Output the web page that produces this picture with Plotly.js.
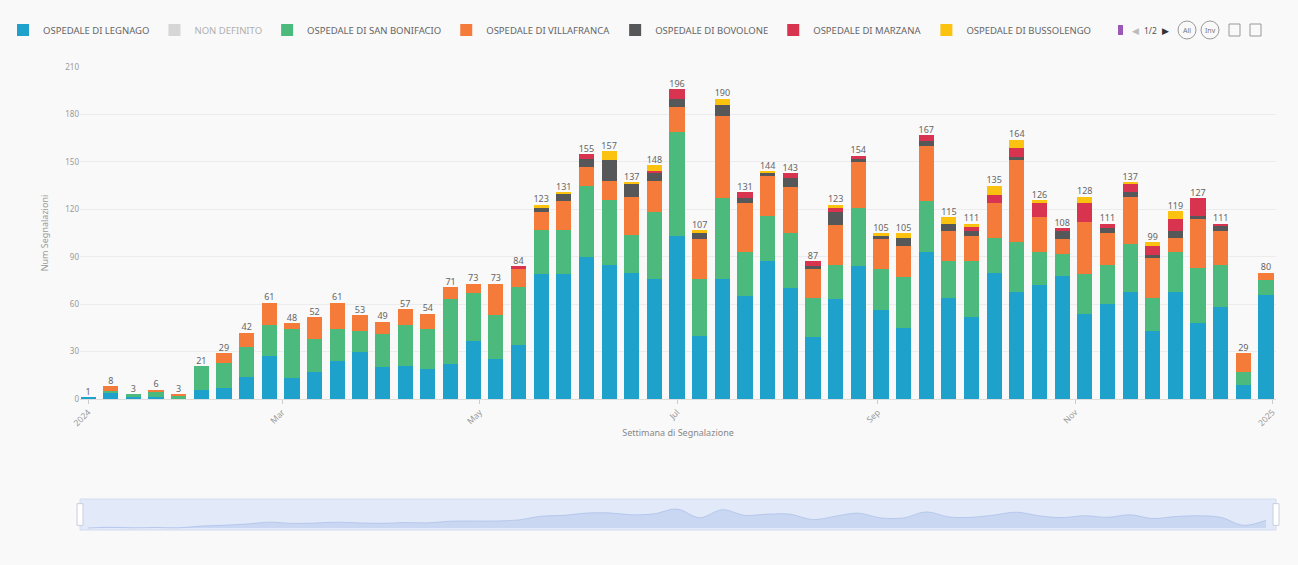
<!DOCTYPE html>
<html>
<head>
<meta charset="utf-8">
<script src="https://cdn.plot.ly/plotly-3.0.1.min.js"></script>
<style>
  html, body { margin: 0; padding: 0; background: #f9f9f9; }
  #chart { width: 1298px; height: 565px; }
</style>
</head>
<body>
<div id="chart"></div>
<script>
// Weekly report counts per hospital (week starting Monday)
const weeks = [
  '2024-01-01','2024-01-08','2024-01-15','2024-01-22','2024-01-29',
  '2024-02-05','2024-02-12','2024-02-19','2024-02-26',
  '2024-03-04','2024-03-11','2024-03-18','2024-03-25',
  '2024-04-01','2024-04-08','2024-04-15','2024-04-22','2024-04-29',
  '2024-05-06','2024-05-13','2024-05-20','2024-05-27',
  '2024-06-03','2024-06-10','2024-06-17','2024-06-24',
  '2024-07-01','2024-07-08','2024-07-15','2024-07-22','2024-07-29',
  '2024-08-05','2024-08-12','2024-08-19','2024-08-26',
  '2024-09-02','2024-09-09','2024-09-16','2024-09-23','2024-09-30',
  '2024-10-07','2024-10-14','2024-10-21','2024-10-28',
  '2024-11-04','2024-11-11','2024-11-18','2024-11-25',
  '2024-12-02','2024-12-09','2024-12-16','2024-12-23','2024-12-30'
];

const legnago = [1,4,1,1,0,6,7,14,27,13,17,24,30,20,21,19,22,37,25,34,
  79,79,90,85,80,76,103,40,76,65,87,70,39,63,84,56,45,93,64,52,
  80,68,72,78,54,60,68,43,68,48,58,9,66];
const sanBonifacio = [0,1,2,4,2,15,16,19,20,31,21,20,13,21,26,25,41,30,28,37,
  28,28,45,41,24,42,66,36,51,28,29,35,25,22,37,26,32,32,23,35,
  22,31,21,14,25,25,30,21,25,35,27,8,9];
const villafranca = [0,3,0,1,1,0,6,9,14,4,14,17,10,8,10,10,8,6,20,11,
  11,18,12,12,24,20,16,25,52,31,25,29,18,25,29,19,20,35,19,16,
  22,52,22,9,33,20,30,25,9,31,21,12,5];
const bovolone = [0,0,0,0,0,0,0,0,0,0,0,0,0,0,0,0,0,0,0,0,
  3,5,5,13,8,5,5,4,7,3,2,6,2,8,2,2,5,3,5,3,
  0,2,0,5,0,3,3,2,4,2,4,0,0];
const marzana = [0,0,0,0,0,0,0,0,0,0,0,0,0,0,0,0,0,0,0,2,
  0,0,3,0,0,1,6,0,0,4,0,3,3,3,2,0,0,4,0,3,
  5,6,9,2,12,3,5,6,8,11,1,0,0];
const bussolengo = [0,0,0,0,0,0,0,0,0,0,0,0,0,0,0,0,0,0,0,0,
  2,1,0,6,1,4,0,2,4,0,1,0,0,2,0,2,3,0,4,2,
  6,5,2,0,4,0,1,2,5,0,0,0,0];

const seriesNames = [
  'OSPEDALE DI LEGNAGO', 'NON DEFINITO', 'OSPEDALE DI SAN BONIFACIO',
  'OSPEDALE DI VILLAFRANCA', 'OSPEDALE DI BOVOLONE',
  'OSPEDALE DI MARZANA', 'OSPEDALE DI BUSSOLENGO'
];
const seriesColors = ['#1ea1cb', '#b5b5b5', '#4dba7d', '#f57b3b', '#555759', '#d9344f', '#fbc30f'];

const tickDates = ['2024-01-01','2024-03-01','2024-05-01','2024-07-01','2024-09-01','2024-11-01','2025-01-01'];
const tickLabels = ['2024','Mar','May','Jul','Sep','Nov','2025'];

// NON DEFINITO is switched off in the legend, so it carries no drawn values
const stacks = [legnago, null, sanBonifacio, villafranca, bovolone, marzana, bussolengo];
const totals = weeks.map((_, i) =>
  stacks.reduce((s, arr) => s + (arr ? arr[i] : 0), 0));

const traces = stacks.map((arr, k) => ({
  type: 'bar',
  name: seriesNames[k],
  x: arr ? weeks : [weeks[0]],
  y: arr ? arr : [null],
  marker: { color: seriesColors[k], line: { width: 0 } },
  visible: arr ? true : 'legendonly',
  hoverinfo: 'skip',
  xaxis: 'x', yaxis: 'y'
}));

// totals printed above every stacked column
traces.push({
  type: 'scatter', mode: 'text',
  x: weeks, y: totals, text: totals.map(String),
  textposition: 'top center',
  textfont: { size: 9, color: '#666', family: 'Noto Sans, sans-serif' },
  cliponaxis: false, showlegend: false, hoverinfo: 'skip',
  xaxis: 'x', yaxis: 'y'
});

// overview strip under the chart
traces.push({
  type: 'scatter', mode: 'lines',
  x: weeks, y: totals,
  fill: 'tozeroy', line: { color: 'rgba(150,175,225,0.6)', width: 0.8, shape: 'spline' },
  fillcolor: 'rgba(175,198,238,0.5)',
  showlegend: false, hoverinfo: 'skip',
  xaxis: 'x2', yaxis: 'y2'
});

const xRange = ['2023-12-29 12:00', '2025-01-02 02:00'];
const W = 1298, H = 565, ml = 80, mr = 22, mt = 67, mb = 35;
const pw = W - ml - mr, ph = H - mt - mb;
const px = v => (v - ml) / pw;
const py = v => (H - mb - v) / ph;

const glyph = (x, text, size, color) => ({
  xref: 'paper', yref: 'paper', x: px(x), y: py(30), xanchor: 'center', yanchor: 'middle',
  text: text, showarrow: false, font: { size: size, color: color }
});

const layout = {
  width: W, height: H,
  paper_bgcolor: '#f9f9f9', plot_bgcolor: '#f9f9f9',
  margin: { l: ml, r: mr, t: mt, b: mb, autoexpand: false },
  font: { family: 'Noto Sans, sans-serif', color: '#888' },
  barmode: 'stack', bargap: 0.33,
  showlegend: true,
  legend: {
    orientation: 'h', x: px(3), xanchor: 'left', y: py(30), yanchor: 'middle',
    font: { size: 9.5, color: '#666' }, bgcolor: 'rgba(0,0,0,0)',
    traceorder: 'normal', itemwidth: 30, itemclick: false, itemdoubleclick: false
  },
  xaxis: {
    type: 'date', range: xRange, domain: [0, 1], anchor: 'y',
    tickmode: 'array', tickvals: tickDates, ticktext: tickLabels,
    tickangle: -45, tickfont: { size: 8.5, color: '#999' },
    ticks: 'outside', ticklen: 4, tickcolor: '#ccc',
    showgrid: false, zeroline: false, showline: true, linecolor: '#ddd', linewidth: 1,
    automargin: false,
    title: { text: 'Settimana di Segnalazione', font: { size: 9, color: '#888' }, standoff: 2 }
  },
  yaxis: {
    domain: [py(399), 1], anchor: 'x', range: [0, 210],
    tick0: 0, dtick: 30, gridcolor: '#ececec', gridwidth: 1,
    zeroline: false, showline: false,
    tickfont: { size: 8, color: '#999' }, automargin: false,
    title: { text: 'Num Segnalazioni', font: { size: 9, color: '#999' }, standoff: 15 }
  },
  xaxis2: {
    type: 'date', range: xRange, domain: [0, 1], anchor: 'y2',
    visible: false, fixedrange: true
  },
  yaxis2: {
    domain: [py(531), py(499)], anchor: 'x2', range: [-20, 300],
    visible: false, fixedrange: true
  },
  shapes: [
    { type: 'rect', xref: 'x2 domain', yref: 'y2 domain', x0: 0, x1: 1, y0: 0, y1: 1,
      fillcolor: '#e2e9f8', line: { color: '#d3dcef', width: 1 }, layer: 'below' },
    { type: 'rect', xref: 'x2 domain', yref: 'y2 domain', xsizemode: 'pixel', xanchor: 0,
      x0: -3, x1: 3, y0: 0.15, y1: 0.85, fillcolor: '#ffffff', line: { color: '#c8cfdc', width: 1 } },
    { type: 'rect', xref: 'x2 domain', yref: 'y2 domain', xsizemode: 'pixel', xanchor: 1,
      x0: -3, x1: 3, y0: 0.15, y1: 0.85, fillcolor: '#ffffff', line: { color: '#c8cfdc', width: 1 } },
    // legend paging + toolbox glyphs
    { type: 'rect', xref: 'paper', yref: 'paper', x0: px(1118), x1: px(1123), y0: py(35), y1: py(25),
      fillcolor: '#9b59b6', line: { width: 0 } },
    { type: 'circle', xref: 'paper', yref: 'paper', x0: px(1178), x1: px(1196), y0: py(39), y1: py(21),
      line: { color: '#999', width: 1 } },
    { type: 'circle', xref: 'paper', yref: 'paper', x0: px(1201), x1: px(1219), y0: py(39), y1: py(21),
      line: { color: '#999', width: 1 } },
    { type: 'rect', xref: 'paper', yref: 'paper', x0: px(1229), x1: px(1240), y0: py(36), y1: py(24),
      line: { color: '#999', width: 1 } },
    { type: 'rect', xref: 'paper', yref: 'paper', x0: px(1250), x1: px(1261), y0: py(36), y1: py(24),
      line: { color: '#999', width: 1 } }
  ],
  annotations: [
    glyph(1135, '◀', 9, '#bbb'),
    glyph(1150, '1/2', 8.5, '#555'),
    glyph(1165, '▶', 9, '#333'),
    glyph(1187, 'All', 7, '#777'),
    glyph(1210, 'Inv', 7, '#777')
  ]
};

Plotly.newPlot('chart', traces, layout, { displayModeBar: false, responsive: false });
</script>
</body>
</html>
